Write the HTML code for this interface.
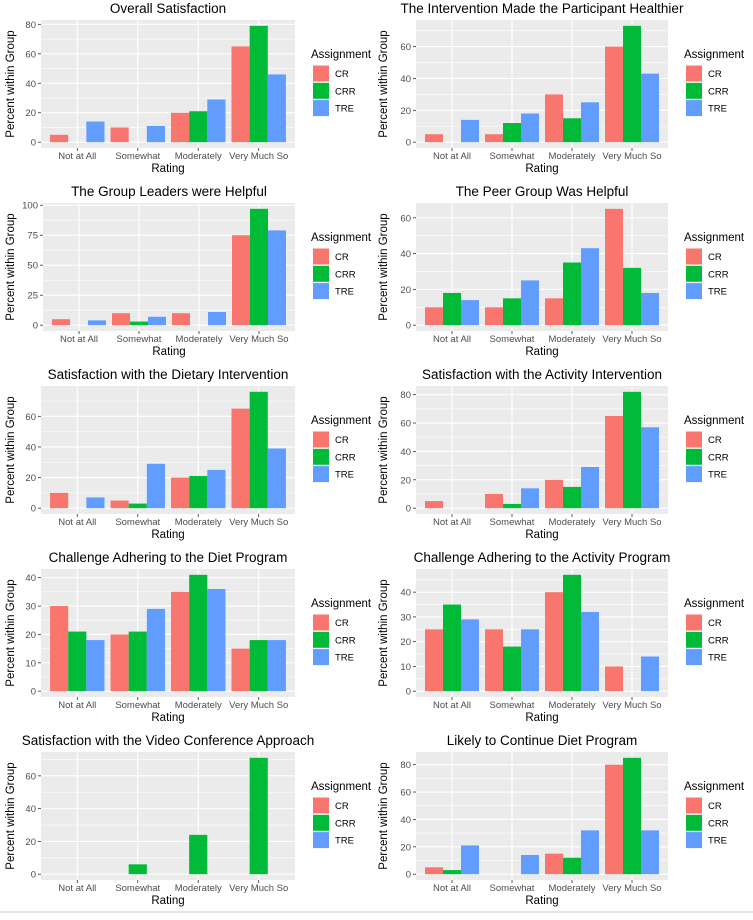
<!DOCTYPE html>
<html><head><meta charset="utf-8"><style>
html,body{margin:0;padding:0;background:#fff;}
svg{display:block;font-family:"Liberation Sans",sans-serif;}
</style></head><body>
<svg id="fig" width="753" height="920" viewBox="0 0 753 920" xmlns="http://www.w3.org/2000/svg"></svg>
<script>
const titles = ["Overall Satisfaction","The Intervention Made the Participant Healthier","The Group Leaders were Helpful","The Peer Group Was Helpful","Satisfaction with the Dietary Intervention","Satisfaction with the Activity Intervention","Challenge Adhering to the Diet Program","Challenge Adhering to the Activity Program","Satisfaction with the Video Conference Approach","Likely to Continue Diet Program"];
const categories = ["Not at All","Somewhat","Moderately","Very Much So"];
const groups = ["CR","CRR","TRE"];
const crValues = [[5,10,20,65],[5,5,30,60],[5,10,10,75],[10,10,15,65],[10,5,20,65],[5,10,20,65],[30,20,35,15],[25,25,40,10],[0,0,0,0],[5,0,15,80]];
const crrValues = [[0,0,21,79],[0,12,15,73],[0,3,0,97],[18,15,35,32],[0,3,21,76],[0,3,15,82],[21,21,41,18],[35,18,47,0],[0,6,24,71],[3,0,12,85]];
const treValues = [[14,11,29,46],[14,18,25,43],[4,7,11,79],[14,25,43,18],[7,29,25,39],[0,14,29,57],[18,29,36,18],[29,25,32,14],[0,0,0,0],[21,14,32,32]];
const yTicks = [[0,20,40,60,80],[0,20,40,60],[0,25,50,75,100],[0,20,40,60],[0,20,40,60],[0,20,40,60,80],[0,10,20,30,40],[0,10,20,30,40],[0,20,40,60],[0,20,40,60,80]];
const colors = ["#F8766D","#00BA38","#619CFF"];

const NS="http://www.w3.org/2000/svg";
const svg=document.getElementById('fig');
function mk(tag,attrs,parent,text){const e=document.createElementNS(NS,tag);for(const k in attrs)e.setAttribute(k,attrs[k]);if(text!==undefined)e.textContent=text;(parent||svg).appendChild(e);return e;}

for(let p=0;p<titles.length;p++){
  const col=p%2,row=Math.floor(p/2);
  const ox=col*373, oy=row*183;
  const g=mk('g',{});
  
  
  const ticks=yTicks[p];
  const left=ox+(ticks[ticks.length-1]>=100?43:41)+(col?2:0), right=ox+295+(col?0:0);
  const top=oy+20, bottom=oy+148, H=bottom-top;
  const series=[crValues[p],crrValues[p],treValues[p]];
  let mx=0;series.forEach(s=>s.forEach(v=>{if(v>mx)mx=v;}));
  const lo=-0.05*mx, hi=1.05*mx;
  const y=v=>bottom-(v-lo)/(hi-lo)*H;
  const unit=(right-left)/4.2;
  const xc=i=>left+(0.6+i)*unit;
  // panel
  const bg=mk('rect',{x:left,y:top,width:right-left,height:H,fill:'#EBEBEB'},g);
  
  
  // minor grid
  const step=ticks[1]-ticks[0];
  for(let t=ticks[0]-step/2;t<=hi;t+=step){ if(t<lo)continue; mk('line',{x1:left,x2:right,y1:y(t),y2:y(t),stroke:'#fff','stroke-width':0.6},g);}
  ticks.forEach(t=>{
    mk('line',{x1:left,x2:right,y1:y(t),y2:y(t),stroke:'#fff','stroke-width':1.1},g);
    mk('line',{x1:left-3,x2:left,y1:y(t),y2:y(t),stroke:'#333','stroke-width':0.8},g);
    const tl=mk('text',{x:left-5,y:y(t)+3.5,'text-anchor':'end','font-size':9.5,fill:'#4D4D4D'},g,String(t));
    
    
  });
  categories.forEach((c,i)=>{
    mk('line',{x1:xc(i),x2:xc(i),y1:top,y2:bottom,stroke:'#fff','stroke-width':1.1},g);
    mk('line',{x1:xc(i),x2:xc(i),y1:bottom,y2:bottom+3,stroke:'#333','stroke-width':0.8},g);
    const xl=mk('text',{x:xc(i),y:bottom+11,'text-anchor':'middle','font-size':9.5,fill:'#4D4D4D'},g,c);
    
    
  });
  // bars
  const bw=unit*0.9/3;
  series.forEach((s,k)=>{
    s.forEach((v,i)=>{
      if(v<=0)return;
      const bx=xc(i)-1.5*bw+k*bw;
      const r=mk('rect',{x:bx,y:y(v),width:bw,height:y(0)-y(v),fill:colors[k]},g);
      
      
    });
  });
  // titles
  const tt=mk('text',{x:(left+right)/2,y:oy+13,'text-anchor':'middle','font-size':13.5,fill:'#000'},g,titles[p]);
  
  
  const xt=mk('text',{x:(left+right)/2,y:oy+172,'text-anchor':'middle','font-size':11.5,fill:'#000'},g,'Rating');
  
  
  const ycx=ox+14, ycy=(top+bottom)/2;
  const yt=mk('text',{x:ycx,y:ycy,'text-anchor':'middle','font-size':11.5,fill:'#000',transform:'rotate(-90 '+ycx+' '+ycy+')'},g,'Percent within Group');
  
  
  // legend
  const lx=ox+312;
  const lt=mk('text',{x:lx-1,y:oy+58,'font-size':11.5,fill:'#000'},g,'Assignment');
  
  
  groups.forEach((gname,k)=>{
    const ky=oy+65+k*17.3;
    const kr=mk('rect',{x:lx+1,y:ky+0.5,width:16,height:16,fill:colors[k]},g);
    
    
    const kl=mk('text',{x:lx+23,y:ky+12,'font-size':9.5,fill:'#000'},g,gname);
    
    
  });
}
const bl=mk('rect',{x:0,y:911,width:753,height:2,fill:'#E6E6E6'});


</script>
</body></html>
